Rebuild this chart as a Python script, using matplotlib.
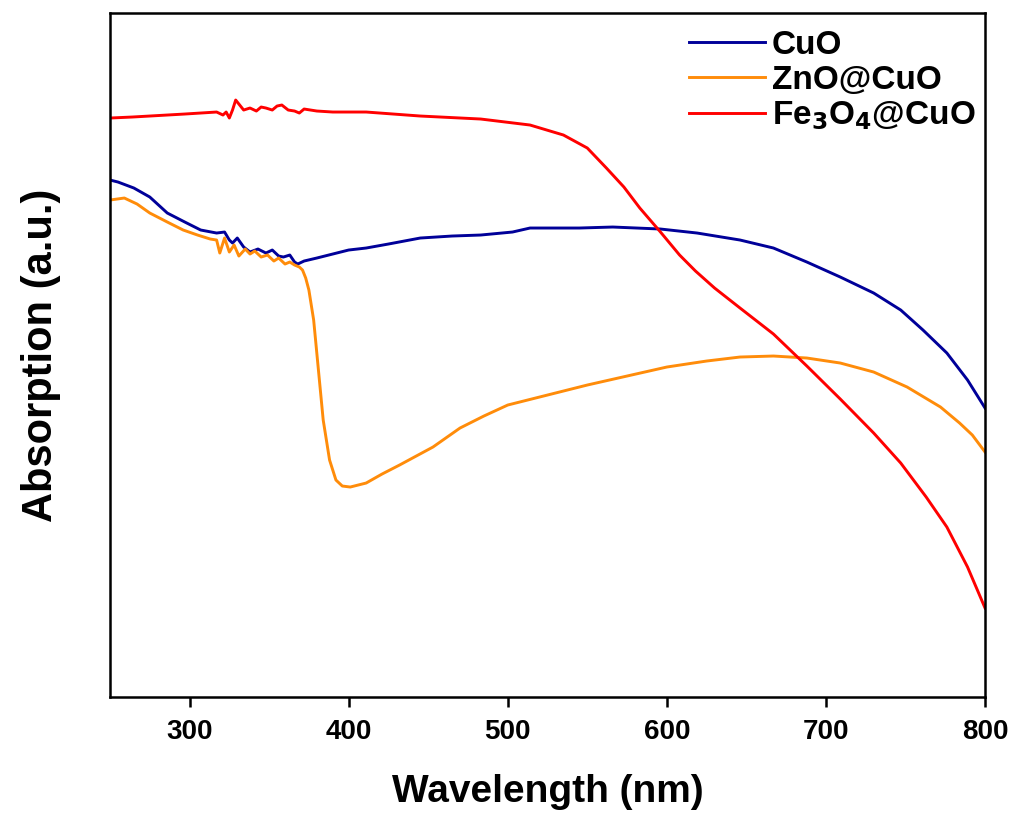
import numpy as np
import matplotlib
matplotlib.use("Agg")
import matplotlib.pyplot as plt

plt.rcParams['font.family'] = ['Liberation Sans', 'DejaVu Sans']
plt.rcParams['font.weight'] = 'bold'
plt.rcParams['mathtext.default'] = 'bf'

# wavelength (nm) / absorption (a.u.)
cuo_wl = [250, 255, 265, 275, 286, 297, 307, 317, 322, 325, 327, 330, 334, 338, 343, 348,
          352, 356, 359, 363, 366, 368, 372, 380, 390, 400, 411, 425, 445, 465, 483, 503,
          514, 545, 566, 596, 619, 646, 667, 688, 709, 730, 747, 761, 776, 789, 800]
cuo_abs = [5.17, 5.15, 5.09, 5.00, 4.84, 4.75, 4.67, 4.64, 4.65, 4.57, 4.54, 4.59, 4.50, 4.45,
           4.48, 4.44, 4.47, 4.41, 4.40, 4.42, 4.35, 4.33, 4.36, 4.39, 4.43, 4.47, 4.49, 4.53,
           4.59, 4.61, 4.62, 4.65, 4.69, 4.69, 4.70, 4.68, 4.64, 4.57, 4.49, 4.35, 4.20, 4.04,
           3.87, 3.67, 3.44, 3.17, 2.89]

zno_wl = [250, 259, 267, 275, 286, 296, 305, 313, 317, 319, 322, 325, 328, 331, 335, 338, 341,
          345, 349, 353, 356, 360, 363, 366, 369, 371, 373, 375, 378, 381, 384, 388, 392, 396,
          401, 411, 421, 432, 453, 470, 485, 500, 525, 550, 575, 600, 625, 646, 667, 688, 709,
          730, 751, 772, 784, 792, 800]
zno_abs = [4.97, 4.99, 4.93, 4.84, 4.75, 4.67, 4.62, 4.58, 4.57, 4.44, 4.59, 4.45, 4.52, 4.41,
           4.48, 4.43, 4.46, 4.40, 4.42, 4.36, 4.39, 4.33, 4.35, 4.32, 4.30, 4.27, 4.19, 4.07,
           3.77, 3.27, 2.77, 2.37, 2.17, 2.11, 2.10, 2.14, 2.23, 2.32, 2.50, 2.69, 2.81, 2.92,
           3.02, 3.12, 3.21, 3.30, 3.36, 3.40, 3.41, 3.39, 3.34, 3.25, 3.10, 2.90, 2.74, 2.62,
           2.45]

fe_wl = [250, 264, 275, 286, 297, 307, 317, 321, 323, 325, 327, 329, 331, 334, 338, 342, 345,
         348, 352, 355, 358, 362, 366, 369, 372, 376, 380, 390, 411, 445, 483, 514, 535, 550,
         562, 573, 583, 596, 608, 618, 630, 646, 667, 688, 709, 730, 747, 763, 776, 789, 800]
fe_abs = [5.79, 5.80, 5.81, 5.82, 5.83, 5.84, 5.85, 5.82, 5.85, 5.79, 5.87, 5.97, 5.93, 5.87,
          5.89, 5.86, 5.90, 5.89, 5.87, 5.91, 5.92, 5.87, 5.86, 5.84, 5.88, 5.87, 5.86, 5.85,
          5.85, 5.81, 5.78, 5.72, 5.62, 5.49, 5.29, 5.10, 4.89, 4.65, 4.42, 4.26, 4.09, 3.89,
          3.63, 3.31, 2.98, 2.64, 2.34, 2.00, 1.70, 1.30, 0.89]

labels = ['CuO', 'ZnO@CuO', 'Fe$_3$O$_4$@CuO']
xticks = [300, 400, 500, 600, 700, 800]

fig = plt.figure(figsize=(10.13, 8.14), dpi=100)
ax = fig.add_axes([0.1086, 0.1437, 0.8638, 0.8403])

ax.plot(cuo_wl, cuo_abs, color='#000099', lw=2.1, label=labels[0])
ax.plot(zno_wl, zno_abs, color='#FF8C0A', lw=2.1, label=labels[1])
ax.plot(fe_wl, fe_abs, color='#FF0000', lw=2.1, label=labels[2])

ax.set_xlim(250, 800)
ax.set_ylim(0, 6.84)
ax.set_xticks(xticks)
ax.set_yticks([])
ax.tick_params(axis='x', direction='out', length=7, width=1.8, pad=9, labelsize=20)
for lab in ax.get_xticklabels():
    lab.set_fontweight('bold')
for s in ax.spines.values():
    s.set_linewidth(1.8)

ax.set_xlabel('Wavelength (nm)', fontsize=28, fontweight='bold', labelpad=21)
ax.set_ylabel('Absorption (a.u.)', fontsize=30, fontweight='bold', labelpad=35)

leg = ax.legend(loc='upper right', frameon=False, fontsize=24, handlelength=2.3,
                handletextpad=0.2, labelspacing=0.12, borderaxespad=0.1,
                bbox_to_anchor=(1.008, 1.0))
for t in leg.get_texts():
    t.set_fontweight('bold')

fig.savefig('out.png', dpi=100)
